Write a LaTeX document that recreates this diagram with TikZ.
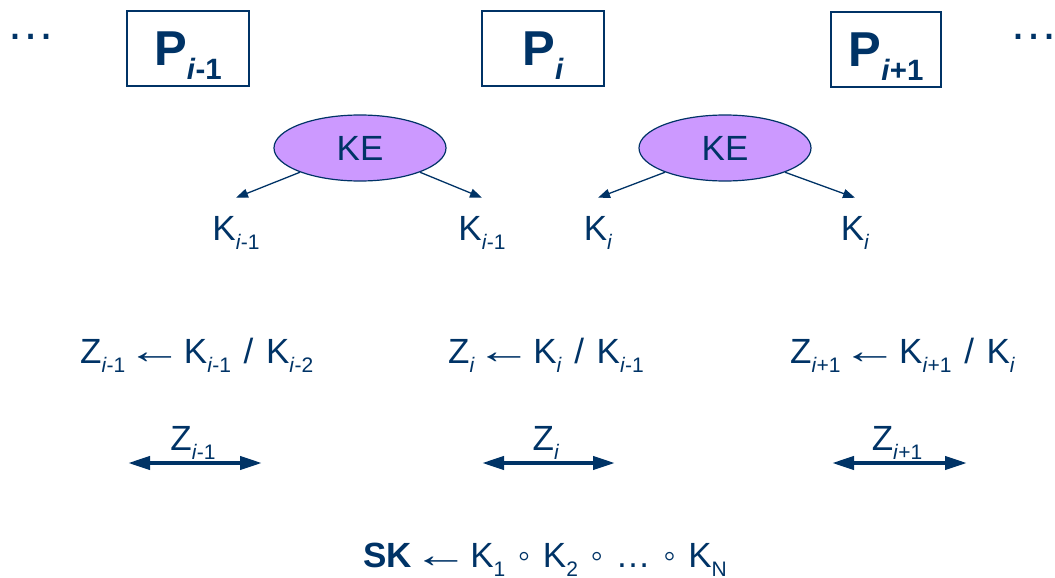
\documentclass[tikz,border=0pt]{standalone}
\usepackage{fontspec}
\setmainfont{Liberation Sans}[WordSpace=1.3]
\usepackage{graphicx}
\usetikzlibrary{shapes.geometric, arrows.meta, positioning}
\definecolor{navy}{RGB}{0,51,102}
\definecolor{lilac}{RGB}{204,153,255}
% lowered, smaller index
\newcommand{\lo}[1]{\raisebox{-0.28em}{\scalebox{0.6}{#1}}}
\newcommand{\ii}{\textit{i}}
\newcommand{\getsym}{\makebox[0.95em]{\scalebox{1.6}[1.05]{←}}}
\newcommand{\compsym}{◦}

\tikzset{
  lbl/.style={font=\fontsize{35}{42}\selectfont, text=navy, inner sep=0pt},
  pbox/.style={draw=navy, line width=1.5pt, font=\fontsize{49}{58}\selectfont\bfseries,
    text=navy, minimum width=122pt, minimum height=75pt, inner sep=0pt, text depth=0pt},
  kebox/.style={ellipse, draw=navy, line width=1.2pt, fill=lilac, minimum width=172pt,
    minimum height=66pt, font=\fontsize{35}{42}\selectfont, text=navy},
  kearrow/.style={-{Triangle[length=12pt,width=9pt]}, draw=navy, line width=1.3pt},
  zarrow/.style={{Triangle[length=22pt,width=13pt]}-{Triangle[length=22pt,width=13pt]},
    draw=navy, line width=4pt},
}

\begin{document}
\begin{tikzpicture}[x=1pt, y=-1pt]
  \useasboundingbox (0,0) rectangle (1055,578);

  % parties
  \node[lbl, font=\fontsize{49}{58}\selectfont] (dl) at (31,37) {\ldots};
  \node[pbox] (p1) at (188,48.5) {P\lo{\ii-1}};
  \node[pbox] (p2) at (543,48.5) {P\lo{\ii}};
  \node[pbox, minimum width=110pt] (p3) at (886,49.5) {P\lo{\ii+1}};
  \node[lbl, font=\fontsize{49}{58}\selectfont] (dr) at (1034,37) {\ldots};

  % key exchanges
  \node[kebox] (ke1) at (360,148) {KE};
  \node[kebox] (ke2) at (725,148) {KE};
  \node[lbl, anchor=base] (k1) at (236,240) {K\lo{\ii-1}};
  \node[lbl, anchor=base] (k2) at (482,240) {K\lo{\ii-1}};
  \node[lbl, anchor=base] (k3) at (598,240) {K\lo{\ii}};
  \node[lbl, anchor=base] (k4) at (855,240) {K\lo{\ii}};
  \draw[kearrow] (ke1.202) -- ([yshift=18pt]k1.north);
  \draw[kearrow] (ke1.-22) -- ([yshift=18pt]k2.north);
  \draw[kearrow] (ke2.202) -- ([yshift=18pt]k3.north);
  \draw[kearrow] (ke2.-22) -- ([yshift=18pt]k4.north);

  % Z values
  \node[lbl, anchor=base west] (zr1) at (80,363) {Z\lo{\ii-1} \getsym{} K\lo{\ii-1} / K\lo{\ii-2}};
  \node[lbl, anchor=base west] (zr2) at (448,363) {Z\lo{\ii} \getsym{} K\lo{\ii} / K\lo{\ii-1}};
  \node[lbl, anchor=base west] (zr3) at (790,363) {Z\lo{\ii+1} \getsym{} K\lo{\ii+1} / K\lo{\ii}};

  % broadcast
  \node[lbl, anchor=base] (z1) at (193,450) {Z\lo{\ii-1}};
  \node[lbl, anchor=base] (z2) at (546,450) {Z\lo{\ii}};
  \node[lbl, anchor=base] (z3) at (897,450) {Z\lo{\ii+1}};
  \foreach \n/\a/\b in {1/128/262, 2/482/615, 3/832/967} {
    \coordinate (zw\n) at (\a,463);
    \coordinate (ze\n) at (\b,463);
    \draw[zarrow] (zw\n) -- (ze\n);
  }

  % session key
  \node[lbl, anchor=base] (sk) at (545,567)
    {\textbf{SK} \getsym{} K\lo{1} \compsym{} K\lo{2} \compsym{} \ldots{} \compsym{} K\lo{N}};
\end{tikzpicture}
\end{document}
